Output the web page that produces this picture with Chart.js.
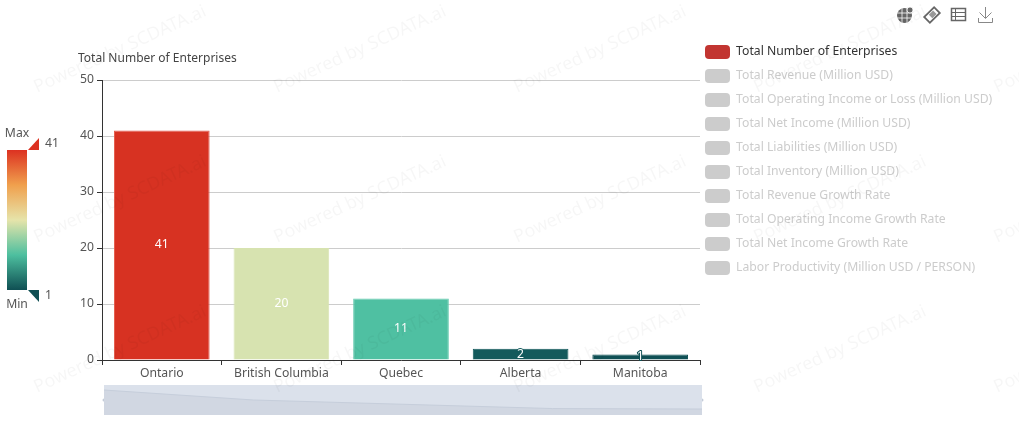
<!DOCTYPE html>
<html><head><meta charset="utf-8">
<style>html,body{margin:0;padding:0;background:#fff}canvas{display:block}</style>
<script src="https://cdn.jsdelivr.net/npm/chart.js@4"></script></head>
<body><canvas id="c" width="1019" height="440"></canvas>
<script>
const categories = ['Ontario','British Columbia','Quebec','Alberta','Manitoba'];
const enterpriseCounts = [41,20,11,2,1];
const barColors = ['#d73222','#d7e3b0','#4fc0a2','#135a5c','#0f5055'];
const barEdges = ['#e45a4c','#d7e3b0','#66cbb0','#135a5c','#0f5055'];
const seriesNames = ['Total Number of Enterprises','Total Revenue (Million USD)','Total Operating Income or Loss (Million USD)','Total Net Income (Million USD)','Total Liabilities (Million USD)','Total Inventory (Million USD)','Total Revenue Growth Rate','Total Operating Income Growth Rate','Total Net Income Growth Rate','Labor Productivity (Million USD / PERSON)'];
const watermarkText = 'Powered by SCDATA.ai';
const rampColors = ['#dc3121','#f0a04d','#e6e4aa','#4dbf9f','#0f4f53'];
const FONT = '"Noto Sans"';
const FS = 12.2;

const extras = {
  id:'extras',
  afterLayout(chart){
    const L = chart.legend; L.left=695; L.right=L.left+L.width; L.top=35; L.bottom=L.top+L.height;
    const T = chart.titleBlock; T.left=78; T.right=400;
  },
  afterDatasetsDraw(chart){
    const ctx = chart.ctx, meta = chart.getDatasetMeta(0);
    ctx.save();
    ctx.font = `${FS}px ${FONT}`; ctx.textAlign='center'; ctx.textBaseline='middle'; ctx.lineJoin='round';
    meta.data.forEach((b,i)=>{
      const p = b.getProps(['x','y','base'],true), y=(p.y+p.base)/2;
      ctx.lineWidth=2; ctx.strokeStyle=barColors[i]; ctx.strokeText(enterpriseCounts[i],p.x,y);
      ctx.fillStyle='#fff'; ctx.fillText(enterpriseCounts[i],p.x,y);
    });
    ctx.restore();
  },
  afterDraw(chart){
    const ctx = chart.ctx; ctx.save();
    // data zoom slider
    ctx.fillStyle='#dbe1eb'; ctx.fillRect(104,385,598,30);
    const n=enterpriseCounts.length, px=i=>104+i*598/(n-1), py=v=>409.5-v*0.475;
    ctx.beginPath(); ctx.moveTo(104,415);
    enterpriseCounts.forEach((v,i)=>ctx.lineTo(px(i),py(v)));
    ctx.lineTo(702,415); ctx.closePath(); ctx.fillStyle='#d1d7e2'; ctx.fill();
    ctx.beginPath(); enterpriseCounts.forEach((v,i)=>i?ctx.lineTo(px(i),py(v)):ctx.moveTo(px(i),py(v)));
    ctx.strokeStyle='#c6cedb'; ctx.lineWidth=1; ctx.stroke();
    ctx.fillStyle='#c4ccd8';
    ctx.beginPath(); ctx.arc(104,400,1.5,Math.PI/2,Math.PI*1.5); ctx.fill();
    ctx.beginPath(); ctx.arc(702,400,1.5,-Math.PI/2,Math.PI/2); ctx.fill();
    // visual map
    const g=ctx.createLinearGradient(0,150,0,290);
    rampColors.forEach((c,i)=>g.addColorStop(i/(rampColors.length-1),c));
    ctx.fillStyle=g; ctx.fillRect(7,150,20,140);
    ctx.fillStyle=rampColors[0]; ctx.beginPath(); ctx.moveTo(28,150); ctx.lineTo(39,138); ctx.lineTo(39,150); ctx.closePath(); ctx.fill();
    ctx.fillStyle=rampColors[4]; ctx.beginPath(); ctx.moveTo(28,290); ctx.lineTo(39,290); ctx.lineTo(39,302); ctx.closePath(); ctx.fill();
    ctx.font=`${FS}px ${FONT}`; ctx.fillStyle='#555'; ctx.textBaseline='middle';
    ctx.textAlign='center'; ctx.fillText('Max',17,133.5); ctx.fillText('Min',17,304.5);
    ctx.textAlign='left'; ctx.fillText(String(Math.max(...enterpriseCounts)),45,143.5); ctx.fillText(String(Math.min(...enterpriseCounts)),45,295.5);
    // toolbox
    ctx.fillStyle='#666';
    ctx.beginPath(); ctx.arc(904.5,15.5,7.5,0,7); ctx.fill();
    ctx.strokeStyle='#fff'; ctx.lineWidth=0.8;
    ctx.beginPath(); ctx.moveTo(897,13); ctx.lineTo(912,13); ctx.moveTo(897,18); ctx.lineTo(912,18);
    ctx.moveTo(902,8); ctx.lineTo(902,23); ctx.moveTo(907,8); ctx.lineTo(907,23); ctx.stroke();
    ctx.beginPath(); ctx.arc(910,10,3,0,7); ctx.fillStyle='#666'; ctx.fill(); ctx.stroke();
    ctx.save(); ctx.translate(932,15); ctx.rotate(-Math.PI/4);
    ctx.strokeStyle='#666'; ctx.lineWidth=1.8; ctx.strokeRect(-7,-4,14,8);
    ctx.fillStyle='#999'; ctx.fillRect(-2,-2.5,6,5);
    ctx.restore();
    ctx.strokeStyle='#666'; ctx.lineWidth=1.5; ctx.strokeRect(951.5,8.5,14,12);
    ctx.lineWidth=1; ctx.beginPath(); ctx.moveTo(951,12.5); ctx.lineTo(966,12.5); ctx.moveTo(951,16.5); ctx.lineTo(966,16.5); ctx.moveTo(955.5,8); ctx.lineTo(955.5,21); ctx.stroke();
    ctx.strokeStyle='#888'; ctx.beginPath();
    ctx.moveTo(985.5,7); ctx.lineTo(985.5,18); ctx.moveTo(979.5,12.5); ctx.lineTo(985.5,18.5); ctx.lineTo(991.5,12.5);
    ctx.moveTo(978.5,18); ctx.lineTo(978.5,22.5); ctx.lineTo(992.5,22.5); ctx.lineTo(992.5,18); ctx.stroke();
    // watermark
    ctx.font=`18px ${FONT}`; ctx.fillStyle='rgba(0,0,0,0.035)'; ctx.textAlign='left'; ctx.textBaseline='alphabetic';
    for(let row=0;row<3;row++) for(let col=0;col<5;col++){
      ctx.save(); ctx.translate(37+col*240,93+row*150); ctx.rotate(-24.5*Math.PI/180);
      ctx.fillText(watermarkText,0,0); ctx.restore();
    }
    ctx.restore();
  }
};

new Chart(document.getElementById('c'),{
  type:'bar',
  data:{labels:categories,datasets:seriesNames.map((name,i)=>i===0?
    {label:name,data:enterpriseCounts,backgroundColor:barColors,borderColor:barEdges,borderWidth:1,barPercentage:0.8,categoryPercentage:1}:
    {label:name,data:[],hidden:true})},
  options:{
    responsive:false,animation:false,
    layout:{padding:{left:0,right:319,top:0,bottom:0}},
    plugins:{
      tooltip:{enabled:false},
      title:{display:true,text:seriesNames[0],align:'start',color:'#444',font:{family:FONT,size:12,weight:'normal',lineHeight:1.5},padding:{top:50,bottom:12}},
      legend:{position:'chartArea',align:'start',
        labels:{boxWidth:25,boxHeight:14,padding:10,useBorderRadius:true,borderRadius:4,font:{family:FONT,size:FS},
          generateLabels(chart){return chart.data.datasets.map((d,i)=>({text:d.label,datasetIndex:i,hidden:false,lineWidth:0,strokeStyle:'transparent',borderRadius:4,fillStyle:i===0?'#c23531':'#ccc',fontColor:i===0?'#333':'#ccc'}));}
        }}
    },
    scales:{
      x:{offset:true,border:{color:'#333',width:1},
        grid:{offset:true,drawOnChartArea:false,tickColor:'#333',tickLength:5},
        ticks:{color:'#555',padding:1,maxRotation:0,autoSkip:false,font:{family:FONT,size:FS}},
        afterFit(s){s.height=80;}},
      y:{min:0,max:50,border:{color:'#333',width:1},
        grid:{color:'#ccc',tickColor:'#333',tickLength:5},
        ticks:{stepSize:10,color:'#555',padding:3,font:{family:FONT,size:FS}},
        afterFit(s){s.width=102;}}
    }
  },
  plugins:[extras]
});
</script></body></html>
